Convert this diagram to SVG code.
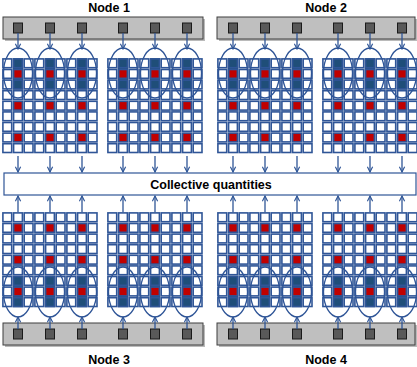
<svg xmlns="http://www.w3.org/2000/svg" xmlns:xlink="http://www.w3.org/1999/xlink" width="417" height="367" viewBox="0 0 417 367">
<style>
.c{fill:#fff;stroke:#2F5597;stroke-width:1.6}
.d{fill:#1F4E79;stroke:#2F5597;stroke-width:1.6}
.r{fill:#C00000;stroke:#2F5597;stroke-width:1.6}
.box{fill:#BFBFBF;stroke:#3F3F3F;stroke-width:1}
.sh{fill:#8C8C8C;opacity:0.6}
.sq{fill:#595959;stroke:#1A1A1A;stroke-width:1}
.el{fill:none;stroke:#2F5597;stroke-width:1.3}
.lbl{font-family:"Liberation Sans",Arial,sans-serif;font-weight:bold;font-size:12.5px;fill:#000;text-anchor:middle}
.ar{fill:none;stroke:#2F5597;stroke-width:1.3;marker-end:url(#ah)}
.bar{fill:#fff;stroke:#2F5597;stroke-width:1.2}
</style>
<defs>
<marker id="ah" viewBox="0 0 8 8" refX="7" refY="4" markerWidth="7" markerHeight="7" orient="auto" markerUnits="userSpaceOnUse">
<path d="M1,1 L7,4 L1,7" fill="none" stroke="#2F5597" stroke-width="1.3"/>
</marker>
<g id="t">
<rect class="c" x="0.9" y="0.9" width="8.8" height="8.8"/><rect class="c" x="11.6" y="0.9" width="8.8" height="8.8"/><rect class="c" x="22.2" y="0.9" width="8.8" height="8.8"/>
<rect class="c" x="0.9" y="11.5" width="8.8" height="8.8"/><rect class="r" x="11.6" y="11.5" width="8.8" height="8.8"/><rect class="c" x="22.2" y="11.5" width="8.8" height="8.8"/>
<rect class="c" x="0.9" y="22.1" width="8.8" height="8.8"/><rect class="c" x="11.6" y="22.1" width="8.8" height="8.8"/><rect class="c" x="22.2" y="22.1" width="8.8" height="8.8"/>
</g>
<g id="h">
<rect x="10.8" y="0.2" width="10.4" height="31.4" fill="#1F4E79"/>
<rect class="c" x="0.9" y="0.9" width="8.8" height="8.8"/><rect class="d" x="11.6" y="0.9" width="8.8" height="8.8"/><rect class="c" x="22.2" y="0.9" width="8.8" height="8.8"/>
<rect class="c" x="0.9" y="11.5" width="8.8" height="8.8"/><rect class="r" x="11.6" y="11.5" width="8.8" height="8.8"/><rect class="c" x="22.2" y="11.5" width="8.8" height="8.8"/>
<rect class="c" x="0.9" y="22.1" width="8.8" height="8.8"/><rect class="d" x="11.6" y="22.1" width="8.8" height="8.8"/><rect class="c" x="22.2" y="22.1" width="8.8" height="8.8"/>
</g>
<g id="bt">
<use xlink:href="#h"/><use xlink:href="#t" y="31.8"/><use xlink:href="#t" y="63.6"/>
<ellipse class="el" cx="16" cy="15" rx="14.5" ry="25"/>
</g>
<g id="bb">
<use xlink:href="#t"/><use xlink:href="#t" y="31.8"/><use xlink:href="#h" y="63.6"/>
<ellipse class="el" cx="16" cy="80" rx="14.5" ry="25"/>
</g>
<g id="sixT">
<use xlink:href="#bt" x="0"/><use xlink:href="#bt" x="32"/><use xlink:href="#bt" x="64"/>
<use xlink:href="#bt" x="105"/><use xlink:href="#bt" x="137"/><use xlink:href="#bt" x="169"/>
</g>
<g id="sixB">
<use xlink:href="#bb" x="0"/><use xlink:href="#bb" x="32"/><use xlink:href="#bb" x="64"/>
<use xlink:href="#bb" x="105"/><use xlink:href="#bb" x="137"/><use xlink:href="#bb" x="169"/>
</g>
<g id="squares">
<rect class="sq" x="-4.5" y="0" width="9" height="10"/><rect class="sq" x="27.5" y="0" width="9" height="10"/><rect class="sq" x="59.5" y="0" width="9" height="10"/>
<rect class="sq" x="100.5" y="0" width="9" height="10"/><rect class="sq" x="132.5" y="0" width="9" height="10"/><rect class="sq" x="164.5" y="0" width="9" height="10"/>
</g>
<g id="arD">
<line class="ar" x1="0" y1="0" x2="0" y2="16"/><line class="ar" x1="32" y1="0" x2="32" y2="16"/><line class="ar" x1="64" y1="0" x2="64" y2="16"/>
<line class="ar" x1="105" y1="0" x2="105" y2="16"/><line class="ar" x1="137" y1="0" x2="137" y2="16"/><line class="ar" x1="169" y1="0" x2="169" y2="16"/>
</g>
<g id="arU">
<line class="ar" x1="0" y1="16" x2="0" y2="0"/><line class="ar" x1="32" y1="16" x2="32" y2="0"/><line class="ar" x1="64" y1="16" x2="64" y2="0"/>
<line class="ar" x1="105" y1="16" x2="105" y2="0"/><line class="ar" x1="137" y1="16" x2="137" y2="0"/><line class="ar" x1="169" y1="16" x2="169" y2="0"/>
</g>
<g id="arUs">
<line class="ar" x1="0" y1="12" x2="0" y2="0"/><line class="ar" x1="32" y1="12" x2="32" y2="0"/><line class="ar" x1="64" y1="12" x2="64" y2="0"/>
<line class="ar" x1="105" y1="12" x2="105" y2="0"/><line class="ar" x1="137" y1="12" x2="137" y2="0"/><line class="ar" x1="169" y1="12" x2="169" y2="0"/>
</g>
</defs>

<g id="node1">
<rect class="sh" x="5" y="19" width="200" height="22"/>
<rect class="box" x="3" y="17" width="200" height="22"/>
<use xlink:href="#squares" x="18" y="23"/>
<use xlink:href="#sixT" x="2" y="58"/>
<text class="lbl" x="109" y="12">Node 1</text>
</g>

<g id="node2">
<rect class="sh" x="219" y="19" width="198" height="22"/>
<rect class="box" x="217" y="17" width="198" height="22"/>
<use xlink:href="#squares" x="233" y="23"/>
<use xlink:href="#sixT" x="217" y="58"/>
<text class="lbl" x="326" y="12">Node 2</text>
</g>

<g id="node3">
<rect class="sh" x="5" y="325" width="200" height="22"/>
<rect class="box" x="3" y="323" width="200" height="22"/>
<use xlink:href="#squares" x="18" y="329"/>
<use xlink:href="#sixB" x="2" y="212"/>
<text class="lbl" x="109" y="364">Node 3</text>
</g>

<g id="node4">
<rect class="sh" x="219" y="325" width="198" height="22"/>
<rect class="box" x="217" y="323" width="198" height="22"/>
<use xlink:href="#squares" x="233" y="329"/>
<use xlink:href="#sixB" x="217" y="212"/>
<text class="lbl" x="326" y="364">Node 4</text>
</g>

<g id="collective">
<rect class="bar" x="4" y="173" width="412" height="22"/>
<text class="lbl" x="211" y="189">Collective quantities</text>
</g>

<g id="connectors">
<use xlink:href="#arD" x="18" y="33"/><use xlink:href="#arD" x="233" y="33"/>
<use xlink:href="#arD" x="18" y="156"/><use xlink:href="#arD" x="233" y="156"/>
<use xlink:href="#arU" x="18" y="196"/><use xlink:href="#arU" x="233" y="196"/>
<use xlink:href="#arUs" x="18" y="317"/><use xlink:href="#arUs" x="233" y="317"/>
</g>
</svg>
